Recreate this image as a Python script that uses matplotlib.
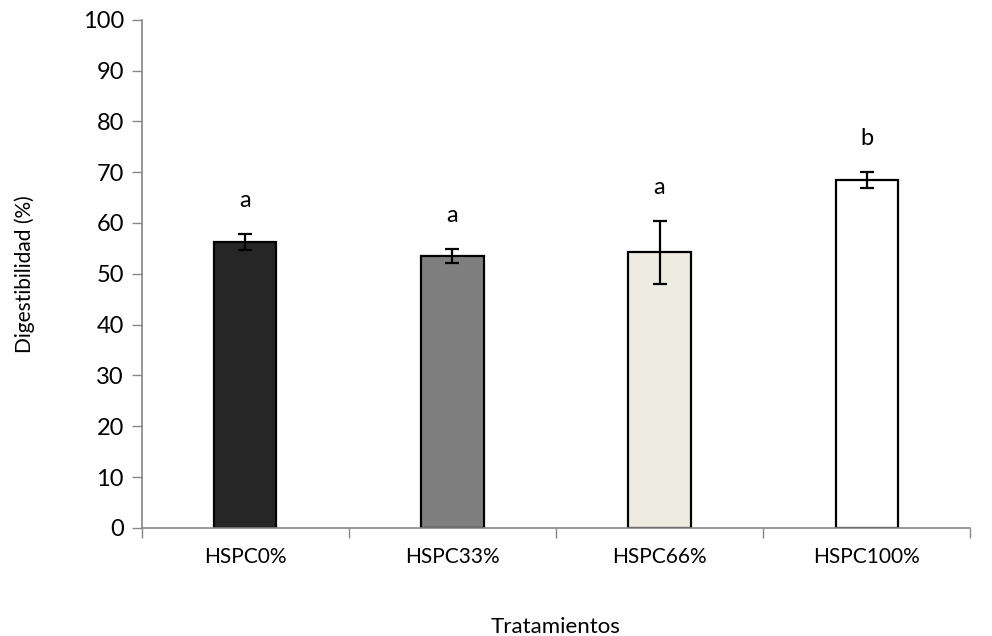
import numpy as np
import matplotlib.pyplot as plt

plt.rcParams['font.family'] = ['Lato', 'DejaVu Sans']

treatments = ['HSPC0%', 'HSPC33%', 'HSPC66%', 'HSPC100%']
digest = [56.3, 53.5, 54.2, 68.5]
err = [1.6, 1.4, 6.2, 1.6]
letters = ['a', 'a', 'a', 'b']
colors = ['#262626', '#7f7f7f', '#eeece1', '#ffffff']

fig = plt.figure(figsize=(9.92, 6.36), dpi=100)
ax = fig.add_axes([0.143, 0.170, 0.835, 0.799])

x = np.arange(len(treatments))
ax.bar(x, digest, width=0.3, color=colors, edgecolor='black', linewidth=1.6, zorder=2)
ax.errorbar(x, digest, yerr=err, fmt='none', ecolor='black', elinewidth=1.6,
            capsize=5, capthick=1.6, zorder=3)
for xi, m, e, lab in zip(x, digest, err, letters):
    ax.text(xi, m + e + 6.5, lab, ha='center', va='center', fontsize=17)

ax.set_xlim(-0.5, len(treatments) - 0.5)
ax.set_ylim(0, 100)
ax.set_yticks(range(0, 101, 10))
ax.set_xticks(x)
ax.set_xticklabels(treatments, fontsize=15)
ax.set_xticks(np.arange(-0.5, len(treatments), 1), minor=True)
ax.tick_params(axis='x', which='major', length=0, pad=14)
ax.tick_params(axis='x', which='minor', length=7, color='#868686', width=1)
ax.tick_params(axis='y', length=7, color='#868686', width=1, labelsize=17, pad=6)

for s in ['top', 'right']:
    ax.spines[s].set_visible(False)
for s in ['left', 'bottom']:
    ax.spines[s].set_color('#868686')
    ax.spines[s].set_linewidth(1.2)

ax.set_ylabel('Digestibilidad (%)', fontsize=15, labelpad=34)
ax.set_xlabel('Tratamientos', fontsize=16, labelpad=36)

fig.savefig('out.png', dpi=100)
